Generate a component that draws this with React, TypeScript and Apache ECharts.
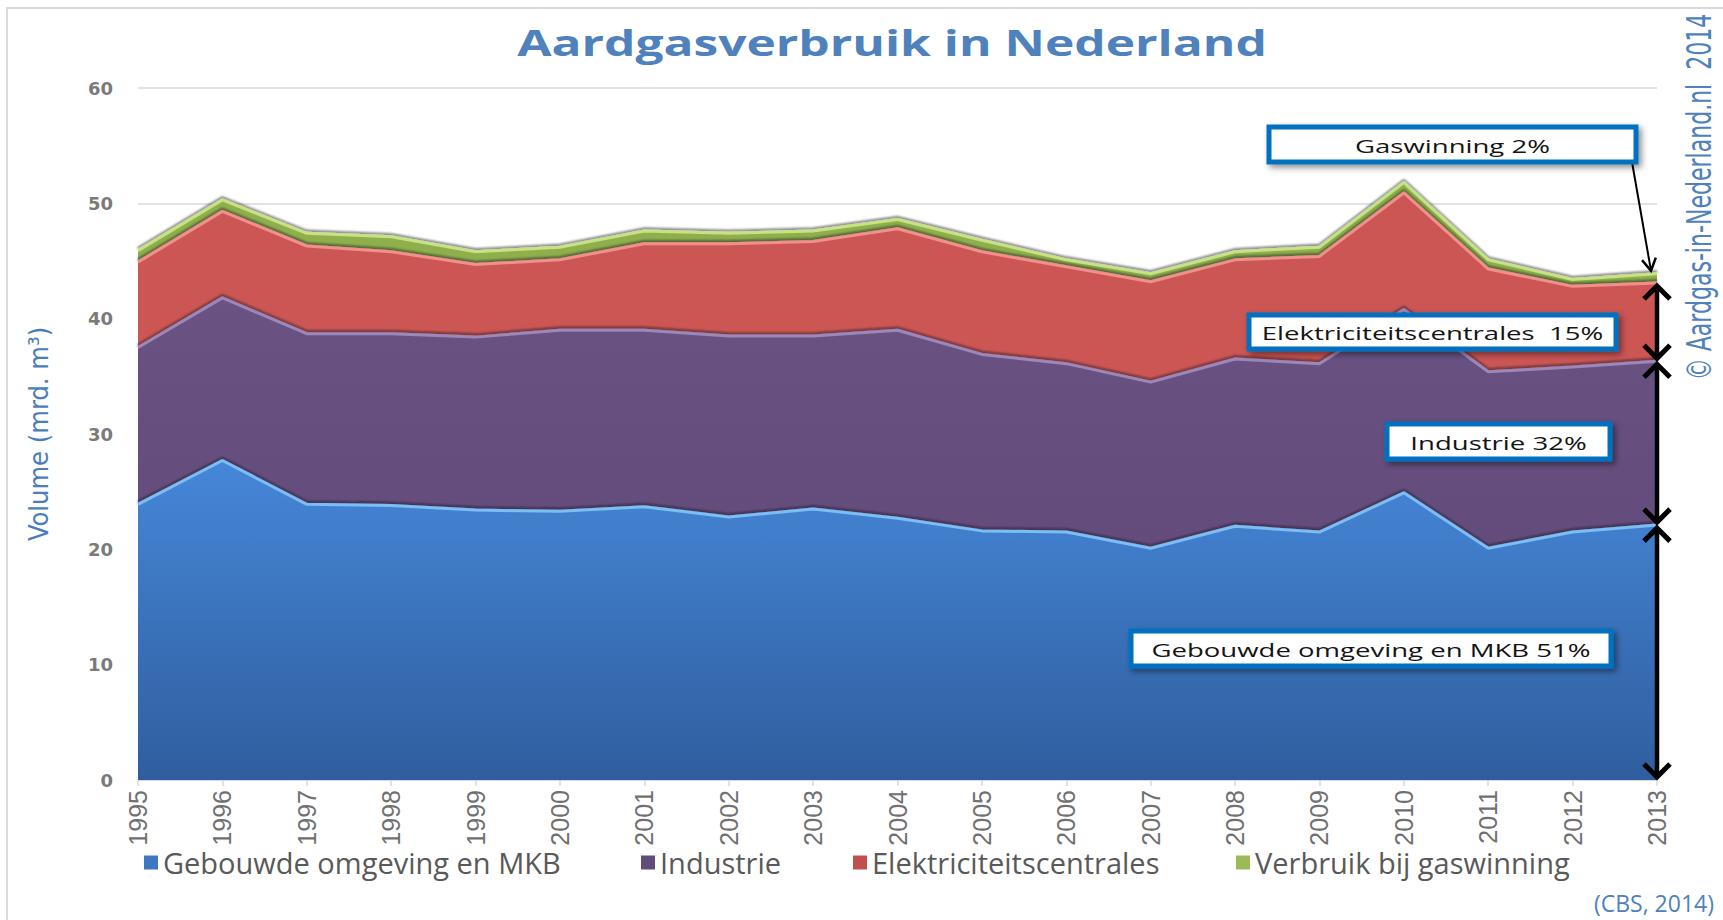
import React, { useEffect, useRef } from "react";
import * as echarts from "echarts";

const years = ["1995", "1996", "1997", "1998", "1999", "2000", "2001", "2002", "2003", "2004", "2005", "2006", "2007", "2008", "2009", "2010", "2011", "2012", "2013"];
const gebouwdeOmgeving = [23.9, 27.7, 23.9, 23.8, 23.4, 23.3, 23.7, 22.8, 23.5, 22.7, 21.6, 21.5, 20.1, 22.0, 21.5, 24.9, 20.1, 21.5, 22.1];
const industrie = [13.6, 14.1, 14.8, 14.9, 15.0, 15.7, 15.3, 15.7, 15.0, 16.3, 15.3, 14.6, 14.4, 14.5, 14.6, 15.9, 15.3, 14.3, 14.2];
const centrales = [7.4, 7.5, 7.6, 7.1, 6.3, 6.1, 7.5, 8.0, 8.2, 8.8, 8.9, 8.4, 8.7, 8.6, 9.3, 10.1, 8.9, 7.0, 6.8];
const gaswinning = [1.0, 1.0, 1.1, 1.3, 1.1, 1.1, 1.1, 0.9, 0.9, 0.8, 1.0, 0.6, 0.7, 0.7, 0.8, 0.9, 0.8, 0.6, 0.8];
const seriesNames = ["Gebouwde omgeving en MKB", "Industrie", "Elektriciteitscentrales", "Verbruik bij gaswinning"];
const annotationTexts = ["Gaswinning 2%", "Elektriciteitscentrales  15%", "Industrie 32%", "Gebouwde omgeving en MKB 51%"];
const titleText = "Aardgasverbruik in Nederland";
const yAxisName = "Volume (mrd. m³)";
const copyrightText = "© Aardgas-in-Nederland.nl  2014";
const sourceText = "(CBS, 2014)";
const yMin = 0;
const yMax = 60;
const yStep = 10;

const FONT_TEXT = "'Open Sans', 'Noto Sans', sans-serif";
const FONT_NARROW = "'Liberation Sans Narrow', 'DejaVu Sans Condensed', 'Liberation Sans', sans-serif";
const FONT_AXIS = "'Liberation Sans', Arial, sans-serif";
const BLUE_TEXT = "#4F81BD";

export default function App() {
  const ref = useRef<HTMLDivElement>(null);

  useEffect(() => {
    const el = ref.current as HTMLDivElement;
    const chart = echarts.init(el, null, { renderer: "svg" });

    const lineShadow = { shadowColor: "rgba(25,15,35,0.55)", shadowBlur: 2, shadowOffsetY: -2 };
    const mk = (name: string, data: number[], color: string, area: any, line: string, z: number) => ({
      name,
      type: "line",
      stack: "total",
      data,
      symbol: "none",
      showSymbol: false,
      z,
      silent: true,
      itemStyle: { color },
      lineStyle: { color: line, width: 3, ...lineShadow },
      areaStyle: { color: area, opacity: 1 },
      emphasis: { disabled: true },
    });

    const blueGrad = new echarts.graphic.LinearGradient(0, 0, 0, 1, [
      { offset: 0, color: "#4687D8" },
      { offset: 1, color: "#2F5E9E" },
    ]);
    const purpleGrad = new echarts.graphic.LinearGradient(0, 0, 0, 1, [
      { offset: 0, color: "#6A5383" },
      { offset: 1, color: "#634C7B" },
    ]);

    const legendLefts = [144, 641, 853, 1236];

    chart.setOption({
      animation: false,
      backgroundColor: "#ffffff",
      grid: { left: 138, right: 66, top: 88, bottom: 140, containLabel: false },
      legend: seriesNames.map((n, i) => ({
        data: [n],
        left: legendLefts[i],
        top: 848,
        padding: 0,
        itemWidth: 14,
        itemHeight: 14,
        icon: "rect",
        selectedMode: false,
        textStyle: { fontFamily: FONT_TEXT, fontSize: 29, color: "#595959" },
      })),
      xAxis: {
        type: "category",
        data: years,
        boundaryGap: false,
        axisLine: { lineStyle: { color: "#D9D9D9", width: 1.5 } },
        axisTick: { show: true, length: 6, lineStyle: { color: "#D9D9D9", width: 1.5 } },
        axisLabel: { rotate: 90, margin: 10, fontFamily: FONT_AXIS, fontSize: 25, color: "#707070" },
        splitLine: { show: false },
      },
      yAxis: {
        type: "value",
        min: yMin,
        max: yMax,
        interval: yStep,
        name: yAxisName,
        nameLocation: "middle",
        nameRotate: 90,
        nameGap: 86,
        nameTextStyle: { fontFamily: FONT_NARROW, fontSize: 27, color: "#4A7EBB" },
        axisLine: { show: false },
        axisTick: { show: false },
        axisLabel: { margin: 25, fontFamily: "'DejaVu Sans', sans-serif", fontWeight: "bold", fontSize: 18, color: "#7A7A7A" },
        splitLine: { lineStyle: { color: "#D9D9D9", width: 1.5 } },
      },
      series: [
        mk(seriesNames[0], gebouwdeOmgeving, "#3F78C2", blueGrad, "#7DBDF5", 8),
        mk(seriesNames[1], industrie, "#634C7B", purpleGrad, "#9C87BA", 7),
        mk(seriesNames[2], centrales, "#C0504D", "#CB5654", "#F28E8C", 6),
        mk(seriesNames[3], gaswinning, "#9BBB59", "#8EAF4C", "#C6E282", 5),
      ],
    });

    const last = years.length - 1;
    const c0 = gebouwdeOmgeving[last];
    const c1 = c0 + industrie[last];
    const c2 = c1 + centrales[last];
    const c3 = c2 + gaswinning[last];
    const P = (v: number) => chart.convertToPixel({ gridIndex: 0 }, [last, v]) as number[];
    const ax = P(0)[0];
    const yBase = P(0)[1];
    const y0 = P(c0)[1];
    const y1 = P(c1)[1];
    const y2 = P(c2)[1];
    const y3 = P(c3)[1];

    const hw = 13;
    const hh = 13;
    const dbl = (x: number, yt: number, yb: number) => [
      { type: "line", z: 50, shape: { x1: x, y1: yt + 1, x2: x, y2: yb - 1 }, style: { stroke: "#000", lineWidth: 4.5 } },
      { type: "polyline", z: 50, shape: { points: [[x - hw, yt + hh], [x, yt], [x + hw, yt + hh]] }, style: { stroke: "#000", fill: null, lineWidth: 5 } },
      { type: "polyline", z: 50, shape: { points: [[x - hw, yb - hh], [x, yb], [x + hw, yb - hh]] }, style: { stroke: "#000", fill: null, lineWidth: 5 } },
    ];

    const boxes = [
      { x: 1269, y: 127, w: 367, h: 35 },
      { x: 1249, y: 315, w: 367, h: 34 },
      { x: 1387, y: 424, w: 223, h: 35 },
      { x: 1131, y: 631, w: 480, h: 35 },
    ];

    const gsx = 1632;
    const gsy = 162;
    const gex = ax - 6;
    const gey = y3 - 3;
    const dx = gex - gsx;
    const dy = gey - gsy;
    const len = Math.sqrt(dx * dx + dy * dy);
    const ux = dx / len;
    const uy = dy / len;
    const px = -uy;
    const py = ux;
    const headL = 12;
    const headW = 7;

    const graphic: any[] = [
      {
        type: "rect",
        z: -10,
        shape: { x: 7, y: 8, width: 1760, height: 1000 },
        style: { fill: null, stroke: "#D9D9D9", lineWidth: 2 },
      },
      {
        type: "text",
        x: 892,
        y: 42,
        scaleX: 1.38,
        style: { text: titleText, fill: BLUE_TEXT, fontFamily: FONT_TEXT, fontWeight: "bold", fontSize: 36, textAlign: "center", textVerticalAlign: "middle" },
      },
      {
        type: "text",
        x: 1700,
        y: 197,
        rotation: Math.PI / 2,
        scaleY: 1.35,
        style: { text: copyrightText, fill: BLUE_TEXT, fontFamily: FONT_NARROW, fontSize: 24.5, textAlign: "center", textVerticalAlign: "middle" },
      },
      {
        type: "text",
        x: 1714,
        y: 903,
        style: { text: sourceText, fill: BLUE_TEXT, fontFamily: FONT_TEXT, fontSize: 23, textAlign: "right", textVerticalAlign: "middle" },
      },
      ...dbl(ax, y2 + 3, y1 - 3),
      ...dbl(ax, y1 + 3, y0 - 3),
      ...dbl(ax, y0 + 3, yBase - 3),
      { type: "line", z: 50, shape: { x1: gsx, y1: gsy, x2: gex, y2: gey }, style: { stroke: "#000", lineWidth: 2 } },
      {
        type: "polyline",
        z: 50,
        shape: {
          points: [
            [gex - ux * headL + px * headW, gey - uy * headL + py * headW],
            [gex, gey],
            [gex - ux * headL - px * headW, gey - uy * headL - py * headW],
          ],
        },
        style: { stroke: "#000", fill: null, lineWidth: 2.5 },
      },
    ];

    boxes.forEach((b, i) => {
      graphic.push({
        type: "rect",
        z: 60,
        shape: { x: b.x, y: b.y, width: b.w, height: b.h },
        style: {
          fill: "#ffffff",
          stroke: "#0070C0",
          lineWidth: 5,
          shadowBlur: 6,
          shadowOffsetX: 3,
          shadowOffsetY: 3,
          shadowColor: "rgba(0,0,0,0.45)",
        },
      });
      graphic.push({
        type: "text",
        z: 61,
        x: b.x + b.w / 2,
        y: b.y + b.h / 2 + 1,
        scaleX: 1.45,
        style: { text: annotationTexts[i], fill: "#141414", fontFamily: FONT_TEXT, fontSize: 19, textAlign: "center", textVerticalAlign: "middle" },
      });
    });

    chart.setOption({ graphic });

    return () => {
      chart.dispose();
    };
  }, []);

  return <div ref={ref} style={{ position: "fixed", left: 0, top: 0, width: 1723, height: 920 }} />;
}
